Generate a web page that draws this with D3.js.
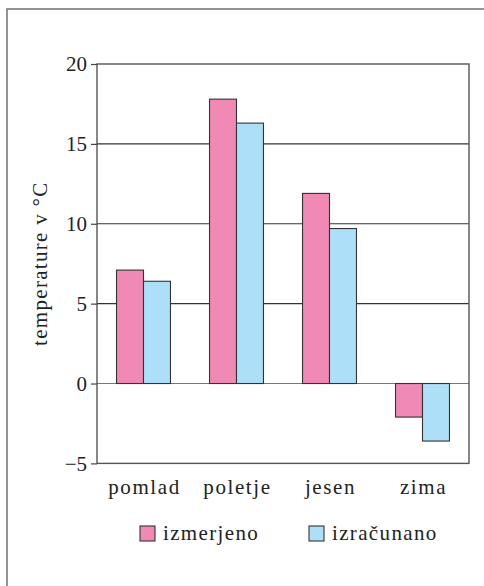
<!DOCTYPE html>
<html>
<head>
<meta charset="utf-8">
<script src="https://cdn.jsdelivr.net/npm/d3@7"></script>
</head>
<body style="margin:0;background:#fff">
<svg id="fig" width="484" height="586"></svg>
<script>
// data
const seasons = ['pomlad', 'poletje', 'jesen', 'zima'];
const series = ['izmerjeno', 'izračunano'];
const measured = [7.1, 17.8, 11.9, -2.1];
const computed = [6.4, 16.3, 9.7, -3.6];
const yTicks = [-5, 0, 5, 10, 15, 20];
const yTickLabels = ['\u22125', '0', '5', '10', '15', '20'];
const colors = ['#f189b5', '#addff8'];

const FONT = '"Liberation Serif"';

function serif(sel, size, spacing) {
  sel.attr('font-family', FONT)
    .style('font-family', FONT, 'important')
    .style('font-size', size + 'px')
    .style('letter-spacing', spacing + 'px')
    .attr('fill', '#222');
}

const svg = d3.select('#fig');

// outer frame (right and bottom run off the page)
svg.append('rect')
  .attr('x', 7).attr('y', 9)
  .attr('width', 500).attr('height', 600)
  .attr('fill', 'none')
  .attr('stroke', '#7a7a7a')
  .attr('stroke-width', 1.6);

const pLeft = 97, pRight = 469, pTop = 64, pBottom = 463.4;

const x = d3.scaleBand().domain(seasons).range([pLeft, pRight])
  .paddingInner(0.42).paddingOuter(0.21);
const xs = d3.scaleBand().domain(series).range([0, x.bandwidth()]);
const y = d3.scaleLinear().domain([-5, 20]).range([pBottom, pTop]);

// grid lines
svg.append('g').selectAll('line')
  .data(yTicks.filter(d => d > -5 && d < 20))
  .join('line')
  .attr('x1', pLeft).attr('x2', pRight)
  .attr('y1', d => y(d)).attr('y2', d => y(d))
  .attr('stroke', d => d === 0 ? '#777' : '#333')
  .attr('stroke-width', 1.2);

// bars
const rows = seasons.map((s, i) => ({ s, vals: [measured[i], computed[i]] }));
svg.append('g').selectAll('g')
  .data(rows)
  .join('g')
  .attr('transform', d => 'translate(' + x(d.s) + ',0)')
  .selectAll('rect')
  .data(d => d.vals.map((v, j) => ({ v, k: series[j], c: colors[j] })))
  .join('rect')
  .attr('x', d => xs(d.k))
  .attr('width', xs.bandwidth())
  .attr('y', d => y(Math.max(0, d.v)))
  .attr('height', d => Math.abs(y(d.v) - y(0)))
  .attr('fill', d => d.c)
  .attr('stroke', '#333')
  .attr('stroke-width', 1.1);

// plot frame
svg.append('rect')
  .attr('x', pLeft).attr('y', pTop)
  .attr('width', pRight - pLeft).attr('height', pBottom - pTop)
  .attr('fill', 'none')
  .attr('stroke', '#555')
  .attr('stroke-width', 1.4);

// y axis
const yAxis = d3.axisLeft(y)
  .tickValues(yTicks)
  .tickFormat((d, i) => yTickLabels[i])
  .tickSize(6)
  .tickPadding(4);
const ya = svg.append('g')
  .attr('transform', 'translate(' + pLeft + ',0)')
  .call(yAxis)
  .attr('font-family', FONT);
ya.select('.domain').remove();
ya.selectAll('line').attr('stroke', '#444').attr('stroke-width', 1.2);
ya.selectAll('text').call(serif, 21, 0);

// x labels
svg.append('g').selectAll('text')
  .data(seasons)
  .join('text')
  .attr('x', d => x(d) + x.bandwidth() / 2 + 1)
  .attr('y', 494)
  .attr('text-anchor', 'middle')
  .call(serif, 21, 1.6)
  .text(d => d);

// y axis title
svg.append('text')
  .attr('transform', 'translate(47,' + ((pTop + pBottom) / 2) + ') rotate(-90)')
  .attr('text-anchor', 'middle')
  .call(serif, 21, 1.3)
  .text('temperature v \u00b0C');

// legend
const legendX = [140, 309];
const lg = svg.append('g').selectAll('g')
  .data(series)
  .join('g')
  .attr('transform', (d, i) => 'translate(' + legendX[i] + ',526)');
lg.append('rect')
  .attr('width', 15).attr('height', 15)
  .attr('fill', (d, i) => colors[i])
  .attr('stroke', '#333')
  .attr('stroke-width', 1.1);
lg.append('text')
  .attr('x', 23).attr('y', 14)
  .call(serif, 21, 1.35)
  .text(d => d);
</script>
</body>
</html>
